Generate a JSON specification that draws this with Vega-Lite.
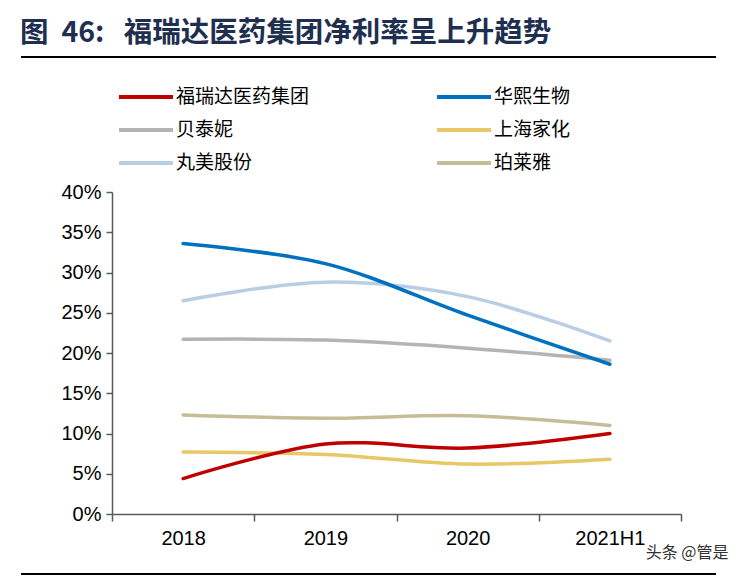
{
  "$schema": "https://vega.github.io/schema/vega-lite/v6.json",
  "padding": {"left": 20, "top": 18, "right": 14, "bottom": 4},
  "spacing": 0,
  "config": {
    "view": {"stroke": null},
    "font": "Liberation Sans"
  },
  "resolve": {"scale": {"color": "independent"}},
  "vconcat": [
    {
      "width": 695,
      "height": 29,
      "title": {
        "text": "图\u00a0\u00a046:\u00a0\u00a0\u00a0福瑞达医药集团净利率呈上升趋势",
        "anchor": "start",
        "font": "Noto Sans CJK SC",
        "fontSize": 28.5,
        "fontWeight": "bold",
        "color": "#1F2F4F",
        "offset": 9
      },
      "data": {"values": [{"edge": "top"}]},
      "mark": {"type": "rule", "color": "#000000", "strokeWidth": 2},
      "encoding": {
        "y": {"datum": 1, "type": "quantitative", "scale": {"domain": [0, 1]}, "axis": null}
      }
    },
    {
      "width": 695,
      "height": 322,
      "data": {
        "values": [
          {"company": "珀莱雅", "period": "2018", "rate": 0.123},
          {"company": "珀莱雅", "period": "2019", "rate": 0.119},
          {"company": "珀莱雅", "period": "2020", "rate": 0.122},
          {"company": "珀莱雅", "period": "2021H1", "rate": 0.110},
          {"company": "丸美股份", "period": "2018", "rate": 0.265},
          {"company": "丸美股份", "period": "2019", "rate": 0.288},
          {"company": "丸美股份", "period": "2020", "rate": 0.270},
          {"company": "丸美股份", "period": "2021H1", "rate": 0.215},
          {"company": "上海家化", "period": "2018", "rate": 0.077},
          {"company": "上海家化", "period": "2019", "rate": 0.074},
          {"company": "上海家化", "period": "2020", "rate": 0.062},
          {"company": "上海家化", "period": "2021H1", "rate": 0.068},
          {"company": "贝泰妮", "period": "2018", "rate": 0.217},
          {"company": "贝泰妮", "period": "2019", "rate": 0.216},
          {"company": "贝泰妮", "period": "2020", "rate": 0.206},
          {"company": "贝泰妮", "period": "2021H1", "rate": 0.191},
          {"company": "华熙生物", "period": "2018", "rate": 0.336},
          {"company": "华熙生物", "period": "2019", "rate": 0.311},
          {"company": "华熙生物", "period": "2020", "rate": 0.247},
          {"company": "华熙生物", "period": "2021H1", "rate": 0.186},
          {"company": "福瑞达医药集团", "period": "2018", "rate": 0.044},
          {"company": "福瑞达医药集团", "period": "2019", "rate": 0.087},
          {"company": "福瑞达医药集团", "period": "2020", "rate": 0.082},
          {"company": "福瑞达医药集团", "period": "2021H1", "rate": 0.100}
        ]
      },
      "mark": {"type": "line", "interpolate": "catmull-rom", "strokeWidth": 3.5, "strokeCap": "round"},
      "encoding": {
        "x": {
          "field": "period",
          "type": "nominal",
          "sort": ["2018", "2019", "2020", "2021H1"],
          "scale": {"paddingInner": 0, "paddingOuter": 0, "range": [91, 660]},
          "axis": {
            "title": "头条 @管是",
            "titleFont": "Noto Sans CJK SC",
            "titleFontSize": 16,
            "titleFontWeight": "normal",
            "titleColor": "#333333",
            "titleAlign": "right",
            "titleBaseline": "middle",
            "titleX": 707,
            "titleY": 38,
            "labelAngle": 0,
            "labelFontSize": 20,
            "labelColor": "#000000",
            "labelPadding": 7,
            "tickBand": "extent",
            "tickSize": 7,
            "tickColor": "#595959",
            "tickWidth": 1.5,
            "domainColor": "#595959",
            "domainWidth": 1.5
          }
        },
        "y": {
          "field": "rate",
          "type": "quantitative",
          "scale": {"domain": [0, 0.4]},
          "axis": {
            "title": null,
            "offset": -91,
            "values": [0, 0.05, 0.1, 0.15, 0.2, 0.25, 0.3, 0.35, 0.4],
            "format": ".0%",
            "grid": false,
            "labelFontSize": 20,
            "labelColor": "#000000",
            "labelPadding": 5,
            "tickSize": 6,
            "tickColor": "#595959",
            "tickWidth": 1.5,
            "domainColor": "#595959",
            "domainWidth": 1.5
          }
        },
        "color": {
          "field": "company",
          "type": "nominal",
          "scale": {
            "domain": ["福瑞达医药集团", "贝泰妮", "丸美股份", "华熙生物", "上海家化", "珀莱雅"],
            "range": ["#C00000", "#B4B4B4", "#B9CDE5", "#0070C0", "#E8C766", "#C4BD97"]
          },
          "legend": {
            "title": null,
            "orient": "none",
            "legendX": 114,
            "legendY": -106,
            "columns": 2,
            "gridAlign": "all",
            "columnPadding": 119,
            "rowPadding": 12,
            "symbolType": "M-3,0H3",
            "symbolSize": 324,
            "symbolStrokeWidth": 4,
            "labelOffset": 19,
            "labelFont": "Noto Sans CJK SC",
            "labelFontSize": 19,
            "labelColor": "#000000",
            "labelLimit": 200
          }
        }
      }
    },
    {
      "width": 695,
      "height": 14,
      "data": {"values": [{"edge": "bottom"}]},
      "mark": {"type": "rule", "color": "#000000", "strokeWidth": 2},
      "encoding": {
        "y": {"datum": 0, "type": "quantitative", "scale": {"domain": [0, 1]}, "axis": null}
      }
    }
  ]
}
